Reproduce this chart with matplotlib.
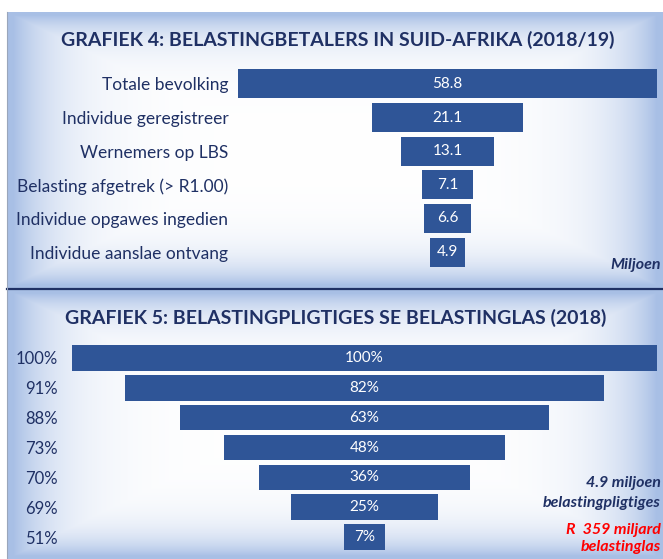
import numpy as np
import matplotlib
matplotlib.use("Agg")
import matplotlib.pyplot as plt

plt.rcParams['font.family'] = ['Lato', 'DejaVu Sans']

# Grafiek 4 data (miljoen)
labels4 = ['Totale bevolking', 'Individue geregistreer', 'Wernemers op LBS',
           'Belasting afgetrek (> R1.00)', 'Individue opgawes ingedien',
           'Individue aanslae ontvang']
values4 = [58.8, 21.1, 13.1, 7.1, 6.6, 4.9]

# Grafiek 5 data (persentasie)
labels5 = ['100%', '91%', '88%', '73%', '70%', '69%', '51%']
values5 = [100, 82, 63, 48, 36, 25, 7]

W, H = 663, 559
navy = '#1F3064'
barcol = '#2F5597'
edge_blue = np.array([0.66, 0.75, 0.90])

fig = plt.figure(figsize=(W / 100, H / 100), dpi=100)

# background layer in pixel coords
bg = fig.add_axes([0, 0, 1, 1])
bg.set_xlim(0, W)
bg.set_ylim(H, 0)
bg.axis('off')


def panel(x0, y0, x1, y1, sx, sy):
    xs = np.arange(x0, x1) + 0.5
    ys = np.arange(y0, y1) + 0.5
    X, Y = np.meshgrid(xs, ys)
    dx = np.minimum(X - x0, x1 - X)
    dy = np.minimum(Y - y0, y1 - Y)
    b = np.maximum(np.exp(-dx / sx), np.exp(-dy / sy))
    b = np.clip(b * 1.15, 0, 1)
    img = 1 - b[..., None] * (1 - edge_blue)
    bg.imshow(img, extent=(x0, x1, y1, y0), aspect='auto', zorder=0)


panel(7, 12, W, 288, 45, 22)
panel(7, 290, W, H, 45, 22)
bg.plot([7, W], [288.5, 288.5], color=navy, lw=1.6, zorder=2)
bg.plot([6.5, 6.5], [12, H], color='#9aa6bb', lw=0.8, zorder=2)

bg.text(338, 40, 'GRAFIEK 4: BELASTINGBETALERS IN SUID-AFRIKA (2018/19)',
        ha='center', va='center', fontsize=14, fontweight='bold', color=navy)
bg.text(336, 318, 'GRAFIEK 5: BELASTINGPLIGTIGES SE BELASTINGLAS (2018)',
        ha='center', va='center', fontsize=14, fontweight='bold', color=navy)

note = dict(ha='right', va='center', fontsize=11.5, fontweight='bold', style='italic')
bg.text(661, 265, 'Miljoen', color=navy, **note)
bg.text(661, 483, '4.9 miljoen', color=navy, **note)
bg.text(661, 503, 'belastingpligtiges', color=navy, **note)
bg.text(661, 530, 'R  359 miljard', color='#FF0000', **note)
bg.text(661, 547, 'belastinglas', color='#FF0000', **note)


def funnel(vals, labs, px0, px1, py0, py1, pad, fs):
    ax = fig.add_axes([px0 / W, 1 - py1 / H, (px1 - px0) / W, (py1 - py0) / H])
    ax.patch.set_alpha(0)
    n = len(vals)
    m = max(vals)
    ypos = np.arange(n)
    ax.barh(ypos, vals, left=[-v / 2 for v in vals], height=0.86, color=barcol)
    ax.set_xlim(-m / 2, m / 2)
    ax.set_ylim(n - 0.5, -0.5)
    ax.set_yticks(ypos)
    ax.set_yticklabels(labs, fontsize=fs, color=navy)
    ax.tick_params(axis='y', length=0, pad=pad)
    ax.set_xticks([])
    for s in ax.spines.values():
        s.set_visible(False)
    return ax, ypos


ax4, y4 = funnel(values4, labels4, 238, 657, 67, 269, 7, 12.5)
for y, v in zip(y4, values4):
    ax4.text(0, y, f'{v:.1f}', ha='center', va='center', color='white', fontsize=11)

ax5, y5 = funnel(values5, labels5, 72, 657, 343, 552, 10, 12)
for y, v in zip(y5, values5):
    ax5.text(0, y, f'{v}%', ha='center', va='center', color='white', fontsize=11)

fig.savefig('out.png', dpi=100)
